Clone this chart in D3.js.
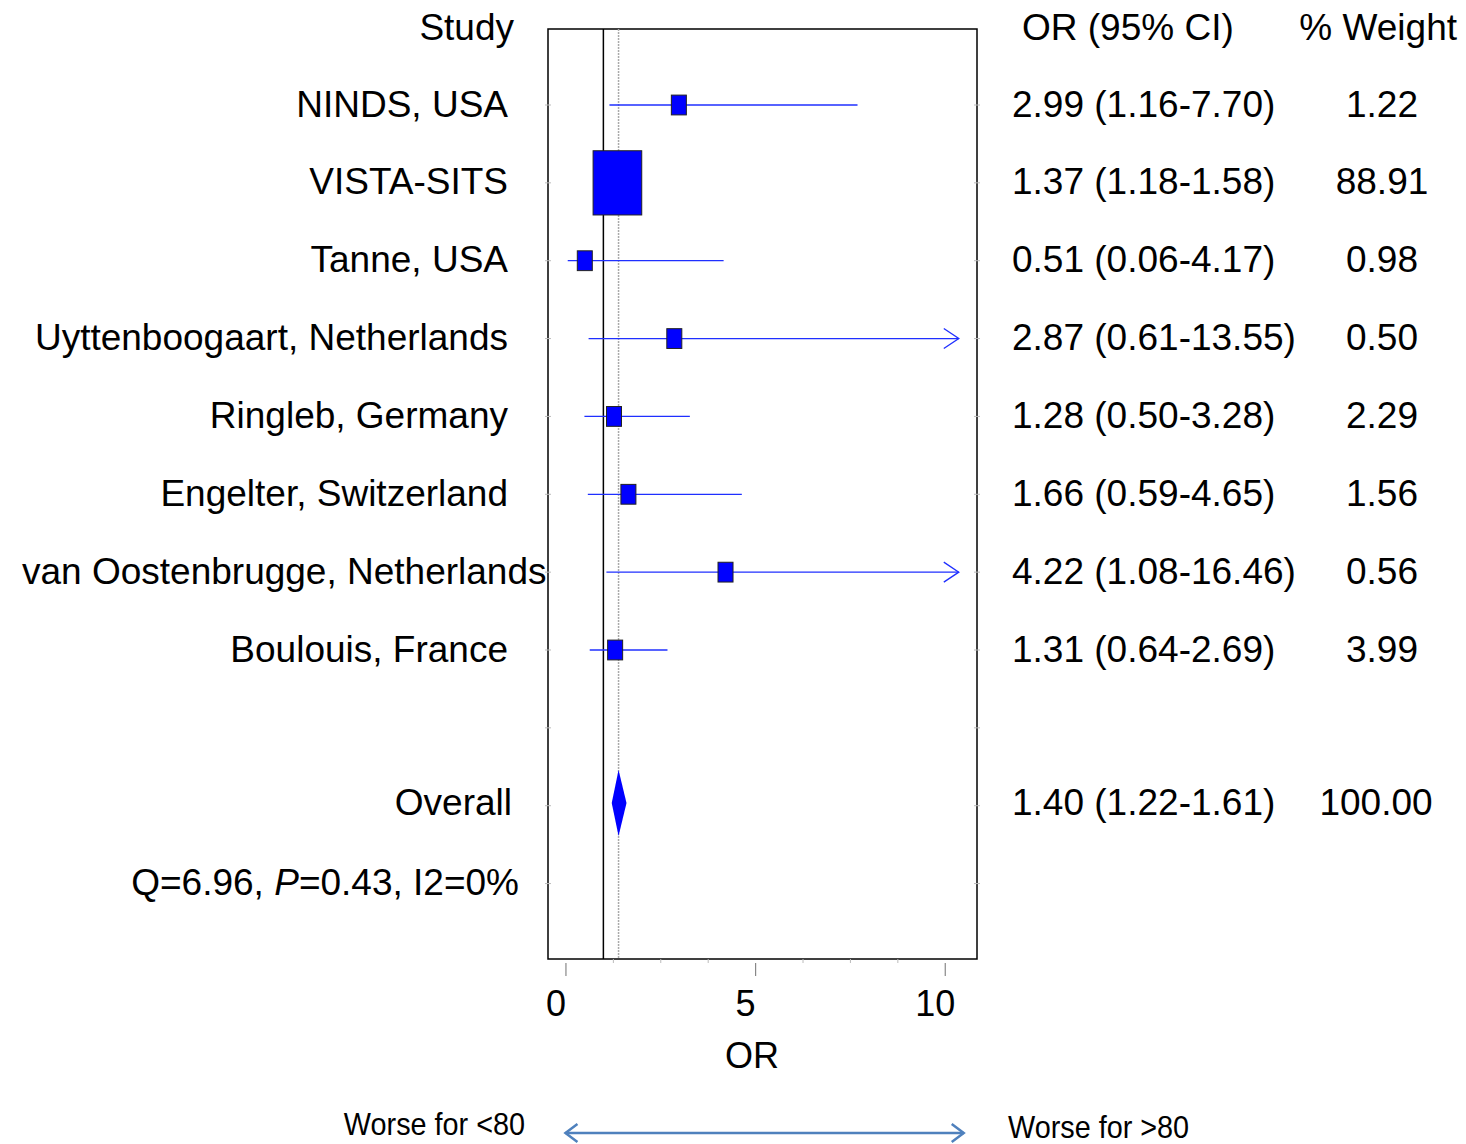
<!DOCTYPE html>
<html>
<head>
<meta charset="utf-8">
<script src="https://cdn.jsdelivr.net/npm/d3@7"></script>
<style>
  body { margin: 0; background: #fff; }
  text { font-family: "Liberation Sans", Arial, sans-serif; fill: #000; }
</style>
</head>
<body>
<div class="chart"></div>
<script>
// study data
var studies = ["NINDS, USA", "VISTA-SITS", "Tanne, USA", "Uyttenboogaart, Netherlands",
  "Ringleb, Germany", "Engelter, Switzerland", "van Oostenbrugge, Netherlands", "Boulouis, France"];
var or = [2.99, 1.37, 0.51, 2.87, 1.28, 1.66, 4.22, 1.31];
var lower = [1.16, 1.18, 0.06, 0.61, 0.50, 0.59, 1.08, 0.64];
var upper = [7.70, 1.58, 4.17, 13.55, 3.28, 4.65, 16.46, 2.69];
var weights = ["1.22", "88.91", "0.98", "0.50", "2.29", "1.56", "0.56", "3.99"];

var overall = {or: 1.40, lower: 1.22, upper: 1.61, weight: "100.00"};
var heterogeneity = {q: "6.96", p: "0.43", i2: "0%"};
var xTicks = [0, 5, 10];
var xMinorTicks = [1.25, 2.5, 3.75, 6.25, 7.5, 8.75];

var options = {width: 1466, height: 1144, fontSize: 37};

var svg = d3.select('.chart').append('svg')
  .attr('width', options.width)
  .attr('height', options.height);

// scales
var x = d3.scaleLinear().domain([-0.46, 10.85]).range([548, 977]);
var y = d3.scaleLinear().domain([0, 7]).range([105, 650]);
var frameTop = 29, frameBottom = 959;
var xMax = x.domain()[1] - 0.48;

var fmt = function(v) { return v.toFixed(2); };

// frame
svg.append('rect')
  .attr('x', x.range()[0]).attr('y', frameTop)
  .attr('width', x.range()[1] - x.range()[0])
  .attr('height', frameBottom - frameTop)
  .attr('fill', 'none').attr('stroke', '#000').attr('stroke-width', 1.5);

// little grey ticks on frame edges
var edgeRows = d3.range(0, 11);
svg.selectAll('line.edge').data(edgeRows).enter()
  .append('line').attr('class', 'edge')
  .attr('x1', x.range()[0] - 3).attr('x2', x.range()[0] + 3)
  .attr('y1', function(d) { return y(d); }).attr('y2', function(d) { return y(d); })
  .attr('stroke', '#bbb').attr('stroke-width', 1);
svg.selectAll('line.edge2').data(edgeRows).enter()
  .append('line').attr('class', 'edge2')
  .attr('x1', x.range()[1] - 3).attr('x2', x.range()[1] + 3)
  .attr('y1', function(d) { return y(d); }).attr('y2', function(d) { return y(d); })
  .attr('stroke', '#bbb').attr('stroke-width', 1);

// reference lines
svg.append('line')
  .attr('x1', x(1)).attr('x2', x(1))
  .attr('y1', frameTop).attr('y2', frameBottom)
  .attr('stroke', '#000').attr('stroke-width', 1.5);
svg.append('line')
  .attr('x1', x(overall.or)).attr('x2', x(overall.or))
  .attr('y1', frameTop).attr('y2', frameBottom)
  .attr('stroke', '#aaa').attr('stroke-width', 1.5)
  .attr('stroke-dasharray', '2,1');

// CI lines
var rows = studies.map(function(s, i) {
  return {name: s, or: or[i], lo: lower[i], hi: upper[i], w: weights[i], i: i};
});

svg.selectAll('line.ci').data(rows).enter()
  .append('line').attr('class', 'ci')
  .attr('x1', function(d) { return x(Math.max(d.lo, x.domain()[0])); })
  .attr('x2', function(d) { return x(Math.min(d.hi, xMax)); })
  .attr('y1', function(d) { return y(d.i); })
  .attr('y2', function(d) { return y(d.i); })
  .attr('stroke', '#1f2fff').attr('stroke-width', 1.3);

// open arrow heads where the CI runs off the scale
svg.selectAll('path.clip').data(rows.filter(function(d) { return d.hi > xMax; })).enter()
  .append('path').attr('class', 'clip')
  .attr('d', function(d) {
    var ex = x(xMax), ey = y(d.i);
    return 'M' + (ex - 15) + ',' + (ey - 10) + 'L' + ex + ',' + ey + 'L' + (ex - 15) + ',' + (ey + 10);
  })
  .attr('fill', 'none').attr('stroke', '#1f2fff').attr('stroke-width', 1.3);

// boxes, sized by weight
var boxW = function(d) { return Math.max(15, 5.16 * Math.sqrt(+d.w)); };
svg.selectAll('rect.box').data(rows).enter()
  .append('rect').attr('class', 'box')
  .attr('x', function(d) { return x(d.or) - boxW(d) / 2; })
  .attr('y', function(d) { return y(d.i) - boxW(d) * 1.32 / 2; })
  .attr('width', boxW)
  .attr('height', function(d) { return boxW(d) * 1.32; })
  .attr('fill', '#0000ff').attr('stroke', '#222').attr('stroke-width', 1);

// overall diamond
var oy = y(8.965);
svg.append('path')
  .attr('d', 'M' + x(overall.lower) + ',' + oy + 'L' + x(overall.or) + ',' + (oy - 33) +
    'L' + x(overall.upper) + ',' + oy + 'L' + x(overall.or) + ',' + (oy + 33) + 'Z')
  .attr('fill', '#0000ff');

// axis
var axisMajor = d3.axisBottom(x).tickValues(xTicks).tickSize(13).tickFormat(d3.format('d'));
var gx = svg.append('g').attr('transform', 'translate(0,' + (frameBottom + 4) + ')').call(axisMajor);
gx.select('.domain').remove();
gx.selectAll('.tick line').attr('stroke', '#888').attr('stroke-width', 1.2);
gx.selectAll('.tick text')
  .attr('y', 27).attr('dx', -10)
  .style('font-family', '"Liberation Sans", Arial, sans-serif')
  .style('font-size', '36px');

var axisMinor = d3.axisBottom(x).tickValues(xMinorTicks).tickSize(4).tickFormat('');
var gm = svg.append('g').attr('transform', 'translate(0,' + frameBottom + ')').call(axisMinor);
gm.select('.domain').remove();
gm.selectAll('.tick line').attr('stroke', '#bbb');

svg.append('text')
  .attr('x', x(5) - 3).attr('y', 1055)
  .attr('text-anchor', 'middle').attr('dominant-baseline', 'central')
  .style('font-size', '36px').text('OR');

// headers
var header = function(t, xx, anchor) {
  svg.append('text')
    .attr('x', xx).attr('y', y(-1))
    .attr('text-anchor', anchor).attr('dominant-baseline', 'central')
    .style('font-size', options.fontSize + 'px').text(t);
};
header('Study', 514, 'end');
header('OR (95% CI)', 1022, 'start');
header('% Weight', 1457, 'end');

// study labels, right aligned but kept on the page
var labelX = 508;
svg.selectAll('text.study').data(rows).enter()
  .append('text').attr('class', 'study')
  .attr('x', labelX).attr('y', function(d) { return y(d.i) - 1; })
  .attr('text-anchor', 'end').attr('dominant-baseline', 'central')
  .style('font-size', options.fontSize + 'px')
  .text(function(d) { return d.name; })
  .each(function() {
    var w = this.getComputedTextLength();
    if (labelX - w < 20) d3.select(this).attr('text-anchor', 'start').attr('x', 22);
  });

svg.selectAll('text.ci').data(rows).enter()
  .append('text').attr('class', 'ci')
  .attr('x', 1012).attr('y', function(d) { return y(d.i) - 1; })
  .attr('dominant-baseline', 'central')
  .style('font-size', options.fontSize + 'px')
  .text(function(d) { return fmt(d.or) + ' (' + fmt(d.lo) + '-' + fmt(d.hi) + ')'; });

svg.selectAll('text.wt').data(rows).enter()
  .append('text').attr('class', 'wt')
  .attr('x', 1382).attr('y', function(d) { return y(d.i) - 1; })
  .attr('text-anchor', 'middle').attr('dominant-baseline', 'central')
  .style('font-size', options.fontSize + 'px')
  .text(function(d) { return d.w; });

// overall row
svg.append('text')
  .attr('x', 512).attr('y', oy)
  .attr('text-anchor', 'end').attr('dominant-baseline', 'central')
  .style('font-size', options.fontSize + 'px').text('Overall');
svg.append('text')
  .attr('x', 1012).attr('y', oy)
  .attr('dominant-baseline', 'central')
  .style('font-size', options.fontSize + 'px')
  .text(fmt(overall.or) + ' (' + fmt(overall.lower) + '-' + fmt(overall.upper) + ')');
svg.append('text')
  .attr('x', 1376).attr('y', oy)
  .attr('text-anchor', 'middle').attr('dominant-baseline', 'central')
  .style('font-size', options.fontSize + 'px').text(overall.weight);

// heterogeneity
var qt = svg.append('text')
  .attr('x', 519).attr('y', y(9.98))
  .attr('text-anchor', 'end').attr('dominant-baseline', 'central')
  .style('font-size', options.fontSize + 'px');
qt.append('tspan').text('Q=' + heterogeneity.q + ', ');
qt.append('tspan').style('font-style', 'italic').text('P');
qt.append('tspan').text('=' + heterogeneity.p + ', I2=' + heterogeneity.i2);

// bottom direction arrow
var ay = 1133;
svg.append('line')
  .attr('x1', x(0)).attr('x2', x(10.5))
  .attr('y1', ay).attr('y2', ay)
  .attr('stroke', '#4f81bd').attr('stroke-width', 2.5);
svg.append('path')
  .attr('d', 'M' + (x(0) + 12) + ',' + (ay - 9) + 'L' + x(0) + ',' + ay + 'L' + (x(0) + 12) + ',' + (ay + 9) +
    'M' + (x(10.5) - 12) + ',' + (ay - 9) + 'L' + x(10.5) + ',' + ay + 'L' + (x(10.5) - 12) + ',' + (ay + 9))
  .attr('fill', 'none').attr('stroke', '#4f81bd').attr('stroke-width', 2.5);

// condensed-looking side notes
svg.append('g').attr('transform', 'translate(525,1123) scale(0.9,1)')
  .append('text')
  .attr('text-anchor', 'end').attr('dominant-baseline', 'central')
  .style('font-size', '32px').text('Worse for <80');
svg.append('g').attr('transform', 'translate(1008,1126) scale(0.9,1)')
  .append('text')
  .attr('dominant-baseline', 'central')
  .style('font-size', '32px').text('Worse for >80');
</script>
</body>
</html>
